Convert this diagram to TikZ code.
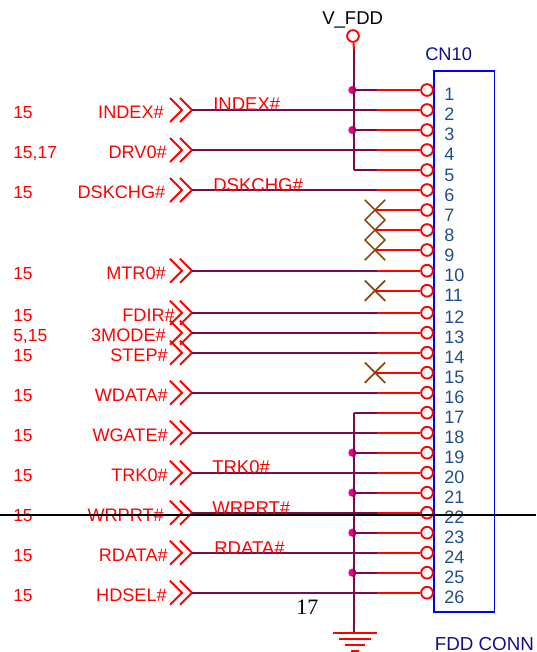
\documentclass[tikz,border=0pt]{standalone}
\usepackage{fontspec}
\usepackage{xcolor}
\setmainfont{Liberation Sans}
\newfontfamily\pageserif{Liberation Serif}
\usetikzlibrary{shapes.misc}
\definecolor{wirepurple}{HTML}{7B0A4A}
\definecolor{pinblue}{HTML}{1F4E8C}
\definecolor{refnavy}{HTML}{10108C}
\definecolor{ncbrown}{HTML}{8A4B10}
\tikzset{
	pinring/.style={circle, draw=red, line width=1.4pt, inner sep=0pt, minimum size=8.8pt},
	sigwire/.style={draw=wirepurple, line width=1.5pt},
	pinwire/.style={draw=red, line width=1.5pt},
	offpage/.style={draw=red, line width=1.4pt},
	sigtext/.style={text=red, inner sep=0pt, font=\fontsize{13.6}{15}\selectfont},
	nettext/.style={text=red, inner sep=0pt, anchor=base west, font=\fontsize{13.9}{15}\selectfont},
	reftext/.style={text=red, inner sep=0pt, anchor=base west, font=\fontsize{13.1}{15}\selectfont},
	pintext/.style={text=pinblue, inner sep=0pt, anchor=base west, font=\fontsize{13.5}{15}\selectfont},
	dotjoin/.style={circle, fill=magenta, inner sep=0pt, minimum size=6.2pt},
	ncmark/.style={cross out, draw=ncbrown, line width=1.3pt, inner sep=0pt, minimum size=14pt}
}

\begin{document}
\begin{tikzpicture}[x=0.75pt, y=-0.75pt]
			\useasboundingbox (0, 0) rectangle (536, 652);

			\node[draw=blue, line width=1.4pt, inner sep=0pt, outer sep=0pt, minimum width=45.4pt, minimum height=405.7pt, anchor=north west] (body) at (434, 71) {};
			\node[pintext, text=refnavy, font=\fontsize{13.7}{15}\selectfont] (refdes) at (425, 61) {CN10};
			\node[pintext, text=refnavy, font=\fontsize{14.1}{15}\selectfont] (partname) at (434.5, 650) {FDD CONN};
			\node[nettext, text=black] (railname) at (322, 25) {V\_FDD};
			\node[text=black, inner sep=0pt, anchor=base west, font=\pageserif\fontsize{16.5}{18}\selectfont] (pageno) at (296, 614) {17};

			\foreach \n/\y in {1/90, 2/110, 3/130, 4/150, 5/170, 6/190, 7/210, 8/230, 9/250, 10/270.7, 11/290.7, 12/312.7, 13/332.7, 14/352.7, 15/372.7, 16/392.7, 17/412.7, 18/432.7, 19/452.7, 20/472.7, 21/492.7, 22/512.7, 23/532.7, 24/552.7, 25/572.7, 26/592.7} {
				\node[pinring] (pin\n) at (427, \y) {};
				\coordinate (stub\n) at (377, \y);
				\coordinate (rail\n) at (354, \y);
				\node[pintext] (num\n) at (444, \y+11) {\n};
			}

			\foreach \n/\y/\lab/\pg/\xr in {2/110/INDEX\#/15/164, 4/150/DRV0\#/{15,17}/167, 6/190/DSKCHG\#/15/165.5, 10/270.7/MTR0\#/15/166, 12/312.7/FDIR\#/15/175, 13/332.7/3MODE\#/{5,15}/166, 14/352.7/STEP\#/15/168, 16/392.7/WDATA\#/15/168, 18/432.7/WGATE\#/15/168, 20/472.7/TRK0\#/15/168, 22/512.7/WRPRT\#/15/164, 24/552.7/RDATA\#/15/168, 26/592.7/HDSEL\#/15/167} {
				\coordinate (tail\n) at (192, \y);
				\draw[offpage] (170, \y-12) to (182, \y) to (170, \y+12);
				\draw[offpage] (180, \y-12) to (192, \y) to (180, \y+12);
				\draw[sigwire] (tail\n) to (stub\n);
				\draw[pinwire] (stub\n) to (pin\n);
				\node[sigtext, anchor=base east] (sig\n) at (\xr, \y+8.5) {\lab};
				\node[reftext] (ref\n) at (13, \y+8.5) {\pg};
			}

			\foreach \n/\x/\y/\lab in {2/213/111/INDEX\#, 6/213/191/DSKCHG\#, 20/212/473/TRK0\#, 22/212/514/WRPRT\#, 24/214/554/RDATA\#} {
				\node[nettext] (net\n) at (\x, \y) {\lab};
			}

			\foreach \n in {1, 3, 19, 21, 23, 25} {
				\node[dotjoin] (dot\n) at ([xshift=-1.2pt]rail\n) {};
			}

			\node[pinring] (vfdd) at (353, 36) {};
			\coordinate (vstub) at (354, 50);
			\coordinate (gnd) at (354, 633);
			\draw[pinwire] (vfdd) to (vstub);
			\draw[sigwire] (vstub) to (rail5);
			\draw[sigwire] (rail17) to (gnd);

			\foreach \n in {1, 3, 5, 17, 19, 21, 23, 25} {
				\draw[sigwire] (rail\n) to (stub\n);
				\draw[pinwire] (stub\n) to (pin\n);
			}
			\foreach \n in {7, 8, 9, 11, 15} {
				\node[ncmark] (nc\n) at ([xshift=-1.5pt]stub\n) {};
				\draw[pinwire] (nc\n.center) to (pin\n);
			}

			\foreach \y/\w in {632.7/22, 639/16, 645/10, 650.7/4} {
				\draw[pinwire] (355-\w, \y) to (355+\w, \y);
			}

			\coordinate (cutL) at (0, 514.8);
			\coordinate (cutR) at (536, 514.8);
			\draw[black, line width=1.2pt] (cutL) to (cutR);
		\end{tikzpicture}
\end{document}
